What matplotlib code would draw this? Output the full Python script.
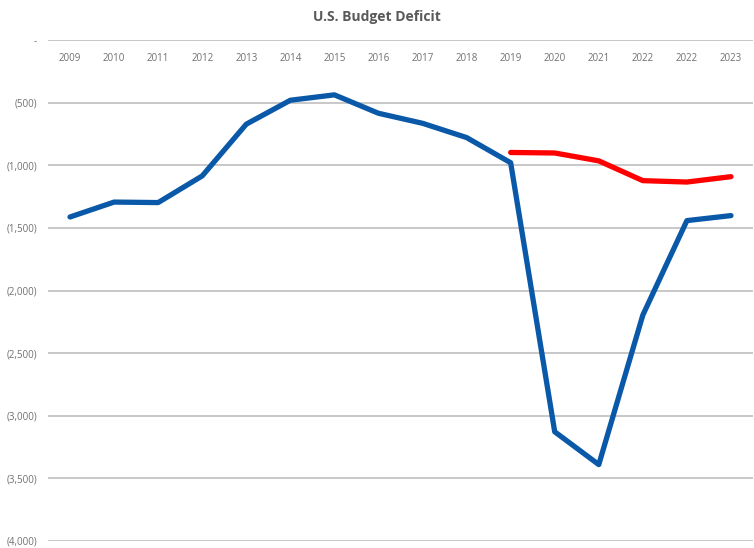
import numpy as np
import matplotlib
matplotlib.use("Agg")
import matplotlib.pyplot as plt
from matplotlib.ticker import FuncFormatter

# categories (the 2022 label appears twice in the source chart)
years = ["2009", "2010", "2011", "2012", "2013", "2014", "2015", "2016",
         "2017", "2018", "2019", "2020", "2021", "2022", "2022", "2023"]

# actual deficit (billions)
actual = [-1413, -1294, -1298, -1085, -672, -481, -438, -585,
          -665, -779, -980, -3128, -3390, -2196, -1442, -1402]

# pre-pandemic projection, starts at 2019
projected = [-898, -902, -965, -1123, -1134, -1091]
proj_start = 10

plt.rcParams['font.family'] = ['Open Sans', 'DejaVu Sans']

fig = plt.figure(figsize=(7.54, 5.48), dpi=100)
ax = fig.add_axes([48/754, 1-541/548, 705/754, 501/548])

x = np.arange(len(years))
ax.plot(x, actual, color="#0A58A8", lw=3.8, solid_capstyle="round", zorder=3)
ax.plot(x[proj_start:], projected, color="#FF0000", lw=3.8,
        solid_capstyle="round", zorder=3)

ax.set_xlim(-0.5, len(years) - 0.5)
ax.set_ylim(-4000, 0)
ax.set_yticks(np.arange(-4000, 1, 500))

def acct(v, pos):
    if v == 0:
        return "-"
    return "({:,.0f})".format(abs(v))

ax.yaxis.set_major_formatter(FuncFormatter(acct))
ax.grid(axis="y", color="#BFBFBF", lw=1.2)
ax.set_axisbelow(True)

ax.xaxis.set_ticks_position("top")
ax.set_xticks(x)
ax.set_xticklabels(years)
ax.tick_params(axis="x", length=0, pad=-17, labelsize=7, colors="#707070",
               labeltop=True, labelbottom=False)
ax.tick_params(axis="y", length=0, pad=8, labelsize=7, colors="#707070")

for s in ax.spines.values():
    s.set_visible(False)

fig.text(0.5, 1-17/548, "U.S. Budget Deficit", ha="center", va="center",
         fontsize=10, fontweight="bold", color="#595959")

fig.savefig("out.png", dpi=100)
